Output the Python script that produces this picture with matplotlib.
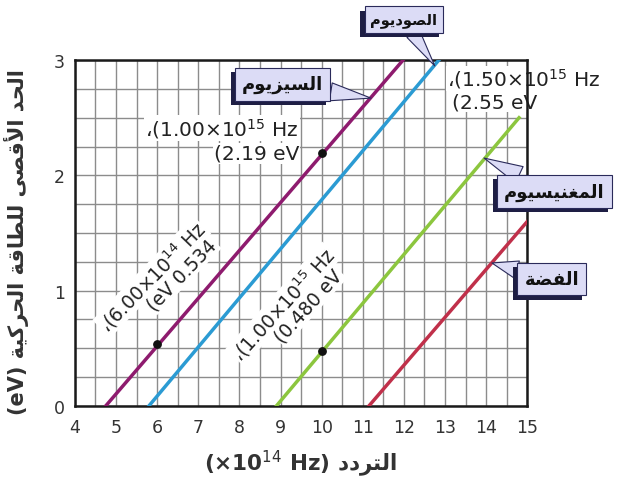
# -*- coding: utf-8 -*-
import numpy as np
import matplotlib
matplotlib.use('Agg')
import matplotlib.pyplot as plt
import matplotlib.patheffects as pe

plt.rcParams['font.family'] = ['DejaVu Sans']

# ---- data (frequency in 1e14 Hz, energy in eV)
cs_f = [4.75, 11.98]
cs_e = [0.0, 3.0]
na_f = [5.80, 12.85]
na_e = [0.0, 3.0]
mg_f = [8.90, 14.80]
mg_e = [0.0, 2.50]
ag_f = [11.15, 15.00]
ag_e = [0.0, 1.60]

dots_f = [6.0, 10.0, 10.0]
dots_e = [0.534, 2.19, 0.48]

xticks = list(range(4, 16))
yticks = [0, 1, 2, 3]

# ---- simple arabic shaping (matplotlib has no bidi / shaping)
FORMS = {
    'ا': (0xFE8D, 2), 'أ': (0xFE83, 2), 'د': (0xFEA9, 2), 'ر': (0xFEAD, 2),
    'ز': (0xFEAF, 2), 'و': (0xFEED, 2), 'ة': (0xFE93, 2), 'ى': (0xFEEF, 2),
    'ت': (0xFE95, 4), 'ح': (0xFEA1, 4), 'س': (0xFEB1, 4), 'ص': (0xFEB9, 4),
    'ض': (0xFEBD, 4), 'ط': (0xFEC1, 4), 'غ': (0xFECD, 4), 'ف': (0xFED1, 4),
    'ق': (0xFED5, 4), 'ك': (0xFED9, 4), 'ل': (0xFEDD, 4), 'م': (0xFEE1, 4),
    'ن': (0xFEE5, 4), 'ي': (0xFEF1, 4),
}


def ar(s):
    out = []
    prev = False
    i = 0
    n = len(s)
    while i < n:
        c = s[i]
        if c not in FORMS:
            out.append(c)
            prev = False
            i += 1
            continue
        if c == 'ل' and i + 1 < n and s[i + 1] in 'اأ':
            base = 0xFEFB if s[i + 1] == 'ا' else 0xFEF7
            out.append(chr(base + (1 if prev else 0)))
            prev = False
            i += 2
            continue
        base, k = FORMS[c]
        nxt = i + 1 < n and s[i + 1] in FORMS
        if k == 2:
            form = 1 if prev else 0
            prev = False
        else:
            if prev and nxt:
                form = 3
            elif prev:
                form = 1
            elif nxt:
                form = 2
            else:
                form = 0
            prev = True
        out.append(chr(base + form))
        i += 1
    return ''.join(reversed(out))


fig = plt.figure(figsize=(6.24, 4.81), dpi=100)
ax = fig.add_axes([0.120, 0.154, 0.725, 0.719])

ax.set_xlim(4, 15)
ax.set_ylim(0, 3)
ax.set_xticks(xticks)
ax.set_yticks(yticks)
ax.set_xticks(np.arange(4, 15.01, 0.5), minor=True)
ax.set_yticks(np.arange(0, 3.01, 0.25), minor=True)
ax.grid(which='both', color='#8c8c8c', lw=1.0, zorder=0)
ax.set_axisbelow(True)
ax.tick_params(which='both', length=0)
ax.tick_params(axis='x', pad=9, labelsize=12.5, labelcolor='#333333')
ax.tick_params(axis='y', pad=7, labelsize=12.5, labelcolor='#333333')
for sp in ax.spines.values():
    sp.set_linewidth(1.8)
    sp.set_color('#1a1a1a')

lw = 2.5
ax.plot(cs_f, cs_e, color='#8e1b6e', lw=lw, zorder=3)
ax.plot(na_f, na_e, color='#2b9bd3', lw=lw, zorder=3)
ax.plot(mg_f, mg_e, color='#8cc63e', lw=lw, zorder=3)
ax.plot(ag_f, ag_e, color='#c0304a', lw=lw, zorder=3)
ax.scatter(dots_f, dots_e, s=28, color='#111111', zorder=4)

# value notes (white behind them hides the grid, as in the book)
wb = dict(boxstyle='square,pad=0.05', fc='white', ec='none')
tk = dict(color='#222222', zorder=2.5, bbox=wb)
ax.text(9.45, 2.41, '،(1.00×10$^{15}$ Hz', ha='right', va='center', fontsize=14.5, **tk)
ax.text(9.45, 2.19, '(2.19 eV', ha='right', va='center', fontsize=14.5, **tk)
ax.text(13.05, 2.84, '،(1.50×10$^{15}$ Hz', ha='left', va='center', clip_on=False,
        fontsize=14.5, **tk)
ax.text(13.17, 2.64, '(2.55 eV', ha='left', va='center', fontsize=14.5, **tk)
ax.text(5.87, 1.12, '،(6.00×10$^{14}$ Hz', ha='center', va='center',
        rotation=46, rotation_mode='anchor', fontsize=13.5, **tk)
ax.text(6.60, 1.14, '(eV 0.534', ha='center', va='center',
        rotation=46, rotation_mode='anchor', fontsize=13.5, **tk)
ax.text(9.06, 0.885, '،(1.00×10$^{15}$ Hz', ha='center', va='center',
        rotation=48, rotation_mode='anchor', fontsize=13.5, **tk)
ax.text(9.68, 0.87, '(0.480 eV', ha='center', va='center',
        rotation=48, rotation_mode='anchor', fontsize=13.5, **tk)

# callout boxes
lav = '#dcdcf6'
navy = '#2a2a5a'


def callout(label, tip, pos, size=13):
    a = ax.annotate(ar(label), xy=tip, xytext=pos, xycoords='data', textcoords='data',
                    ha='center', va='center', fontsize=size, fontweight='bold', color='#111111',
                    annotation_clip=False, zorder=6,
                    bbox=dict(boxstyle='square,pad=0.4', fc=lav, ec=navy, lw=0.8),
                    arrowprops=dict(arrowstyle='wedge,tail_width=1.0,shrink_factor=0.5',
                                    fc=lav, ec=navy, lw=0.8, shrinkA=0, shrinkB=0))
    a.get_bbox_patch().set_path_effects([
        pe.SimplePatchShadow(offset=(-3, -3), shadow_rgbFace='#1e1e44', alpha=1.0),
        pe.Normal()])
    return a


callout('الصوديوم', (12.75, 2.95), (12.0, 3.35), size=10.5)
callout('السيزيوم', (11.2, 2.67), (9.05, 2.79))
callout('المغنيسيوم', (13.95, 2.15), (15.66, 1.86))
callout('الفضة', (14.14, 1.24), (15.6, 1.10))

fig.text(0.482, 0.037, '(×10$^{14}$ Hz) ' + ar('التردد'), ha='center', va='center',
         fontsize=15.5, fontweight='bold', color='#333333')
fig.text(0.027, 0.497, '(eV) ' + ar('الحد الأقصى للطاقة الحركية'), ha='center', va='center',
         rotation=90, fontsize=15, fontweight='bold', color='#333333')

fig.savefig('out.png', dpi=100, facecolor='white')
